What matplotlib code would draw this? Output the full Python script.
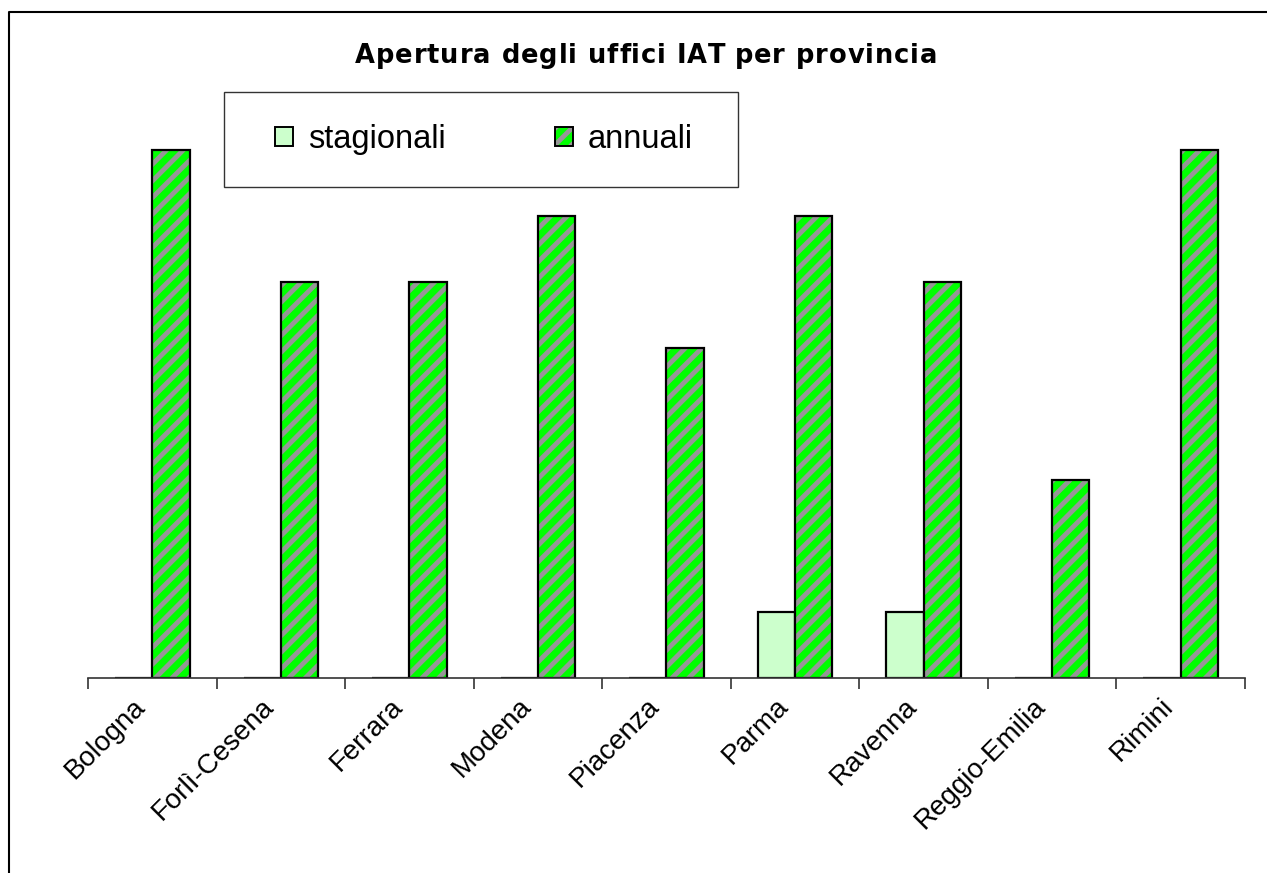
import matplotlib
matplotlib.use("Agg")
import matplotlib.pyplot as plt
import numpy as np
from matplotlib.lines import Line2D
from matplotlib.patches import Patch, Rectangle
from matplotlib.legend_handler import HandlerTuple
from matplotlib.font_manager import FontProperties
import matplotlib.transforms as mtransforms

plt.rcParams['font.family'] = ['Liberation Sans', 'DejaVu Sans']
plt.rcParams['hatch.linewidth'] = 3.5

provinces = ["Bologna", "Forlì-Cesena", "Ferrara", "Modena", "Piacenza",
             "Parma", "Ravenna", "Reggio-Emilia", "Rimini"]
stagionali = [0, 0, 0, 0, 0, 1, 1, 0, 0]
annuali = [8, 6, 6, 7, 5, 7, 6, 3, 8]
title = "Apertura degli uffici IAT per provincia"

W, H = 1267, 873
fig = plt.figure(figsize=(W / 100, H / 100), dpi=100)
ax = fig.add_axes([88 / W, (H - 678) / H, (1245 - 88) / W, (678 - 84) / H])

x = np.arange(len(provinces))
bw = 0.29
ax.bar(x - bw / 2, stagionali, bw, color='#CCFFCC', edgecolor='black', linewidth=1.6)
ax.bar(x + bw / 2, annuali, bw, color='#00FF00', edgecolor='#969696', hatch='//', linewidth=0)
ax.bar(x + bw / 2, annuali, bw, fill=False, edgecolor='black', linewidth=1.6)

ax.set_xlim(-0.5, len(provinces) - 0.5)
ax.set_ylim(0, 9)
for s in ['top', 'right', 'left']:
    ax.spines[s].set_visible(False)
ax.spines['bottom'].set_color('#333333')
ax.spines['bottom'].set_linewidth(1.2)
ax.set_yticks([])
ax.set_xticks(x)
ax.set_xticklabels(provinces, rotation=45, ha='right', rotation_mode='anchor', fontsize=20)
ax.tick_params(axis='x', which='major', length=0, pad=11)
ax.set_xticks(np.arange(len(provinces) + 1) - 0.5, minor=True)
ax.tick_params(axis='x', which='minor', length=8, width=1.2, color='#333333')
shift = mtransforms.ScaledTranslation(-20 / 100, 0, fig.dpi_scale_trans)
for lbl in ax.get_xticklabels():
    lbl.set_transform(lbl.get_transform() + shift)

# letter-spaced title
renderer = fig.canvas.get_renderer()
tprop = FontProperties(family=['DejaVu Sans'], weight='bold', size=18.5)
def textw(s):
    w1, _, _ = renderer.get_text_width_height_descent(s + "|", tprop, ismath=False)
    w2, _, _ = renderer.get_text_width_height_descent("|", tprop, ismath=False)
    return w1 - w2
target_left, target_right = 355, 937
nat = textw(title)
extra = max(0.0, (target_right - target_left - nat) / (len(title) - 1))
start = target_left if extra > 0 else (target_left + target_right - nat) / 2
for i, ch in enumerate(title):
    px = start + textw(title[:i]) + i * extra
    fig.text(px / W, 1 - 56 / H, ch, ha='left', va='center',
             fontproperties=tprop)

# legend frame drawn explicitly
fig.add_artist(Rectangle((224 / W, 1 - 187 / H), (738 - 224) / W, (187 - 92) / H,
                         transform=fig.transFigure, fill=False,
                         edgecolor='#333333', linewidth=1.0))
h_st = Patch(facecolor='#CCFFCC', edgecolor='black', linewidth=1.4)
h_an = (Patch(facecolor='#00FF00', edgecolor='#969696', hatch='//', linewidth=0),
        Patch(fill=False, edgecolor='black', linewidth=1.4))
leg = fig.legend([h_st, h_an], ['stagionali', 'annuali'], ncol=2,
                 handler_map={tuple: HandlerTuple(ndivide=1, pad=0)},
                 loc='center left', bbox_to_anchor=(275 / W, 1 - 139.5 / H),
                 fontsize=23.5, frameon=False,
                 handlelength=0.55, handleheight=0.55, handletextpad=0.45,
                 columnspacing=3.35, borderpad=0, borderaxespad=0)

# outer frame (left & top)
fig.add_artist(Line2D([9 / W, 9 / W, 1], [0, 1 - 12 / H, 1 - 12 / H],
                      transform=fig.transFigure, color='black', linewidth=1.5))

fig.savefig("out.png", dpi=100)
